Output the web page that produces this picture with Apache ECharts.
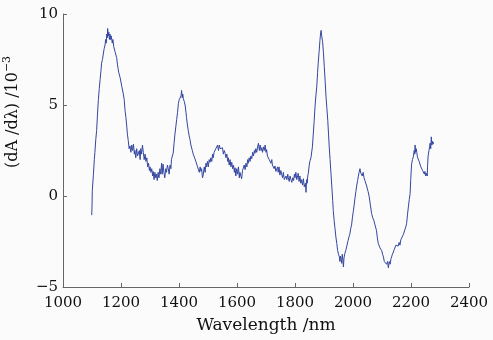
<!DOCTYPE html>
<html>
<head>
<meta charset="utf-8">
<script src="https://cdn.jsdelivr.net/npm/echarts@6/dist/echarts.min.js"></script>
<style>
html,body{margin:0;padding:0;background:#fbfbfb;}
#c{width:493px;height:340px;}
</style>
</head>
<body>
<div id="c"></div>
<script>
var xTicks = [1000, 1200, 1400, 1600, 1800, 2000, 2200, 2400];
var yTicks = [-5, 0, 5, 10];
var wavelength = [
1099,1100,1101,1103,1105,1108,1110,1113,1116,1119,1122,1125,1128,1131,1133,1136,1139,1142,1145,1147,
1149,1151,1153,1154,1156,1158,1160,1162,1164,1166,1168,1170,1172,1175,1177,1180,1182,1185,1188,1190,
1192,1194,1197,1200,1203,1205,1208,1211,1214,1217,1220,1222,1225,1228,1231,1234,1237,1240,1243,1246,
1248,1251,1254,1257,1260,1263,1266,1268,1271,1274,1277,1280,1283,1286,1289,1292,1295,1298,1300,1303,
1306,1309,1311,1314,1317,1320,1322,1325,1328,1331,1334,1337,1340,1342,1345,1348,1351,1354,1357,1360,
1363,1366,1369,1372,1374,1377,1380,1383,1386,1389,1392,1395,1398,1401,1404,1407,1409,1411,1413,1415,
1418,1421,1424,1426,1429,1432,1435,1438,1441,1443,1446,1449,1452,1455,1458,1461,1464,1467,1470,1473,
1476,1478,1481,1484,1487,1490,1493,1495,1498,1501,1504,1507,1510,1513,1516,1518,1521,1524,1527,1530,
1533,1536,1539,1542,1545,1547,1550,1553,1556,1559,1562,1565,1568,1570,1573,1576,1579,1582,1585,1588,
1591,1593,1596,1599,1602,1605,1608,1610,1613,1616,1619,1622,1625,1628,1631,1634,1637,1639,1642,1645,
1648,1651,1654,1657,1660,1662,1665,1668,1671,1674,1677,1680,1683,1685,1688,1691,1694,1697,1700,1702,
1705,1708,1711,1714,1717,1720,1722,1725,1728,1731,1734,1737,1740,1742,1745,1748,1751,1754,1757,1760,
1763,1766,1769,1772,1775,1777,1780,1783,1786,1789,1792,1795,1798,1800,1803,1806,1809,1811,1814,1817,
1820,1823,1826,1829,1832,1834,1836,1838,1840,1842,1844,1846,1849,1852,1855,1857,1860,1863,1866,1869,
1872,1875,1878,1880,1883,1886,1888,1890,1892,1895,1898,1901,1904,1907,1910,1913,1916,1918,1921,1924,
1927,1930,1932,1935,1938,1941,1944,1947,1950,1953,1955,1957,1959,1961,1963,1965,1967,1969,1972,1975,
1978,1980,1983,1986,1989,1992,1995,1998,2001,2004,2007,2010,2013,2016,2018,2021,2024,2027,2030,2032,
2035,2038,2041,2044,2047,2049,2052,2056,2060,2064,2068,2072,2076,2081,2084,2087,2090,2093,2096,2099,
2102,2105,2108,2110,2113,2116,2119,2122,2125,2128,2131,2133,2136,2139,2142,2145,2148,2151,2153,2156,
2159,2162,2165,2168,2171,2174,2177,2179,2182,2185,2188,2191,2194,2197,2199,2202,2205,2208,2211,2213,
2214,2216,2218,2220,2222,2225,2228,2231,2234,2237,2240,2243,2246,2248,2251,2254,2256,2257,2259,2262,
2264,2266,2268,2270,2272,2274,2276,2277
];
var dAdl = [
-1.05,-0.6,0.3,0.4,1.2,2.0,2.4,3.1,3.6,4.5,5.3,5.9,6.4,6.9,7.3,7.5,7.8,8.1,8.3,8.6,
8.4,8.9,8.7,9.2,8.8,9.0,8.6,8.9,8.6,8.8,8.7,8.4,8.6,8.2,8.3,7.9,8.0,7.6,7.2,7.0,
6.8,6.9,6.5,6.4,6.0,5.9,5.6,5.3,4.7,4.3,3.8,3.4,3.05,2.6,2.75,2.4,2.8,2.5,2.85,2.3,
2.5,2.1,2.6,2.2,2.1,2.5,2.0,2.6,2.3,2.8,2.4,2.0,2.3,1.9,2.1,1.6,1.8,1.4,1.6,1.3,
1.5,1.1,1.35,0.9,1.3,1.0,1.2,0.85,1.3,1.0,1.5,1.2,1.8,1.2,1.75,1.3,1.0,1.5,1.3,1.7,
1.5,1.2,1.7,1.5,2.0,2.2,2.35,2.9,3.4,3.8,4.2,4.6,5.1,5.3,5.2,5.5,5.8,5.4,5.6,5.35,
5.2,5.0,4.6,4.3,3.9,3.6,3.3,3.1,2.8,2.9,2.5,2.3,2.4,2.05,1.9,2.0,1.6,1.7,1.3,1.6,
1.35,1.5,1.0,1.2,1.6,1.3,1.8,1.6,1.9,1.6,2.0,1.85,2.1,1.9,2.3,2.1,2.4,2.3,2.6,2.55,
2.8,2.5,2.8,2.6,2.7,2.5,2.65,2.3,2.5,2.35,2.1,2.3,1.9,2.1,1.7,2.0,1.6,1.85,1.5,1.7,
1.3,1.55,1.1,1.5,1.2,1.6,1.0,1.3,1.4,0.95,1.4,1.3,1.7,1.45,1.8,1.6,2.0,1.8,2.1,1.9,
2.2,2.05,2.4,2.2,2.5,2.35,2.6,2.4,2.7,2.9,2.5,2.8,2.5,2.65,2.4,2.7,2.5,2.8,2.4,2.55,
2.2,2.3,2.0,1.95,1.8,2.0,1.7,1.75,1.5,1.65,1.35,1.45,1.6,1.3,1.6,1.15,1.4,1.2,1.0,1.3,
0.9,0.85,1.1,0.9,1.2,1.0,0.8,1.1,0.9,0.75,1.0,0.85,1.2,1.0,1.3,0.9,1.1,1.25,0.8,1.1,
0.7,0.9,0.6,0.95,0.5,0.55,0.7,0.2,0.9,0.7,1.1,1.25,1.7,1.95,2.1,2.2,2.7,3.4,4.1,4.9,
5.5,6.0,6.8,7.3,7.9,8.55,8.9,9.1,8.8,8.5,7.9,7.1,6.3,5.45,4.8,4.15,3.3,2.7,2.0,1.25,
0.5,-0.25,-0.8,-1.35,-1.8,-2.25,-2.6,-3.0,-3.2,-3.35,-3.6,-3.3,-3.45,-3.7,-3.2,-3.5,-3.9,-3.4,-3.15,-3.0,
-2.8,-2.9,-2.45,-2.25,-2.1,-1.8,-1.6,-1.2,-0.85,-0.5,-0.1,0.25,0.6,0.85,1.05,1.3,1.5,1.25,1.35,1.1,
1.3,1.0,0.85,0.75,0.55,0.45,0.25,-0.05,-0.5,-0.95,-1.2,-1.35,-1.6,-1.9,-2.3,-2.6,-2.7,-2.85,-2.9,-3.0,
-3.2,-3.35,-3.6,-3.7,-3.55,-3.75,-3.6,-3.95,-3.6,-3.75,-3.45,-3.55,-3.2,-3.2,-2.95,-3.0,-2.7,-2.75,-2.6,-2.75,
-2.55,-2.7,-2.4,-2.5,-2.3,-2.1,-2.0,-1.85,-1.7,-1.5,-1.0,-0.6,-0.2,0.15,0.9,1.75,2.0,2.15,2.5,2.3,
2.8,2.4,2.6,2.4,2.15,2.2,1.9,1.95,1.6,1.7,1.4,1.5,1.2,1.35,1.1,1.25,1.1,1.6,2.2,2.5,
2.7,2.9,2.6,3.25,2.8,3.0,2.85,2.97
];
var seriesData = wavelength.map(function (w, i) { return [w, dAdl[i]]; });

var font = 'DejaVu Serif';
var chart = echarts.init(document.getElementById('c'));
chart.setOption({
  backgroundColor: '#fbfbfb',
  animation: false,
  grid: {left: 63, top: 14, right: 24, bottom: 53},
  xAxis: {
    type: 'value', min: xTicks[0], max: xTicks[xTicks.length - 1], interval: 200,
    name: 'Wavelength /nm', nameLocation: 'middle', nameGap: 30,
    nameTextStyle: {fontFamily: font, fontSize: 17, color: '#111'},
    axisLine: {show: true, onZero: false, lineStyle: {color: '#666', width: 1}},
    axisTick: {show: true, inside: true, length: 4, lineStyle: {color: '#666'}},
    axisLabel: {fontFamily: font, fontSize: 15, color: '#111', margin: 9,
      formatter: function (v) { return String(v); }},
    splitLine: {show: false}
  },
  yAxis: {
    type: 'value', min: yTicks[0], max: yTicks[yTicks.length - 1], interval: 5,
    axisLine: {show: true, onZero: false, lineStyle: {color: '#666', width: 1}},
    axisTick: {show: true, inside: true, length: 4, lineStyle: {color: '#666'}},
    axisLabel: {fontFamily: font, fontSize: 15, color: '#111', margin: 5,
      formatter: function (v) { return String(v).replace('-', '\u2212'); }},
    splitLine: {show: false}
  },
  graphic: [{
    type: 'text', x: 13, y: 112, rotation: Math.PI / 2,
    style: {
      text: '(dA /d\u03bb) /10{sup|\u22123}',
      fontFamily: font, fontSize: 16, fill: '#111',
      align: 'center', verticalAlign: 'middle',
      rich: {sup: {fontFamily: font, fontSize: 11, fill: '#111', verticalAlign: 'top', lineHeight: 22}}
    }
  }],
  series: [{
    type: 'line', data: seriesData, showSymbol: false, symbol: 'none',
    lineStyle: {color: '#3446a0', width: 1}
  }]
});
</script>
</body>
</html>
